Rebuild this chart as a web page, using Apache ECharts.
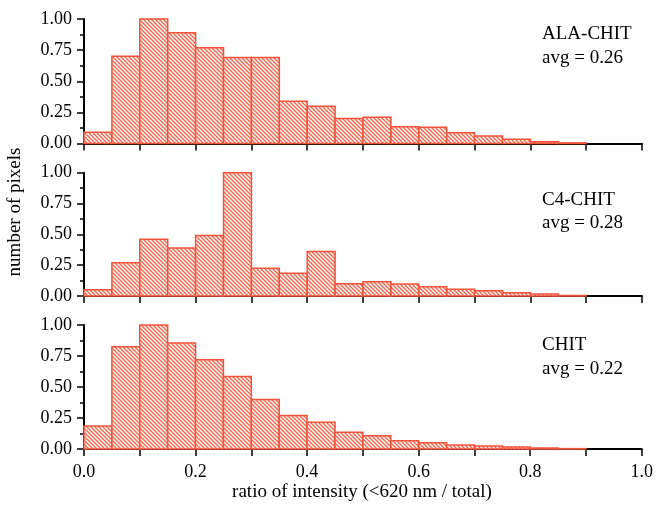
<!DOCTYPE html>
<html>
<head>
<meta charset="utf-8">
<script src="https://cdn.jsdelivr.net/npm/echarts@6/dist/echarts.min.js"></script>
<style>
html,body{margin:0;padding:0;background:#fff;}
#c{width:656px;height:513px;}
</style>
</head>
<body>
<div id="c"></div>
<script>
// ---- data ----
const binStarts = [0.00,0.05,0.10,0.15,0.20,0.25,0.30,0.35,0.40,0.45,0.50,0.55,0.60,0.65,0.70,0.75,0.80,0.85];
const binWidth = 0.05;
const alaChit = [0.09,0.70,1.00,0.89,0.77,0.69,0.69,0.34,0.30,0.20,0.21,0.135,0.13,0.087,0.06,0.035,0.015,0.005];
const c4Chit  = [0.05,0.27,0.46,0.39,0.49,1.00,0.225,0.185,0.36,0.10,0.115,0.098,0.076,0.054,0.043,0.027,0.016,0.004];
const chit    = [0.185,0.825,1.00,0.855,0.72,0.585,0.40,0.27,0.215,0.135,0.107,0.067,0.051,0.032,0.024,0.016,0.008,0.003];
const panelNames = ['ALA-CHIT','C4-CHIT','CHIT'];
const panelAvg = ['avg = 0.26','avg = 0.28','avg = 0.22'];
const xTitle = 'ratio of intensity (<620 nm / total)';
const yTitle = 'number of pixels';

// ---- hatch pattern ----
const tile = document.createElement('canvas');
tile.width = 4; tile.height = 4;
const tc = tile.getContext('2d');
tc.fillStyle = '#ffffff';
tc.fillRect(0,0,4,4);
tc.strokeStyle = '#f4664c';
tc.lineWidth = 1.4;
tc.beginPath();
tc.moveTo(-1,-1); tc.lineTo(5,5);
tc.moveTo(-1,3); tc.lineTo(1,5);
tc.moveTo(3,-1); tc.lineTo(5,1);
tc.stroke();
const hatch = {image: tile, repeat: 'repeat'};

const FONT = 'Liberation Serif';
const grids = [
  {left:84, right:14, top:19, height:124.5},
  {left:84, right:14, top:172.7, height:123.3},
  {left:84, right:14, top:325, height:124}
];
const seriesData = [alaChit, c4Chit, chit];

const xAxes = grids.map((g,i)=>({
  type:'value', gridIndex:i, min:0, max:1, interval:0.2,
  axisLine:{show:true, onZero:false, lineStyle:{color:'#000', width:2}},
  axisTick:{show:true, inside:false, length:7, lineStyle:{color:'#000', width:1.5}},
  minorTick:{show:true, splitNumber:2, length:7, lineStyle:{color:'#000', width:1.5}},
  splitLine:{show:false},
  axisLabel:{show:i===2, margin:14, color:'#000', fontFamily:FONT, fontSize:18,
    formatter:(v)=>v.toFixed(1)}
}));
const yAxes = grids.map((g,i)=>({
  type:'value', gridIndex:i, min:0, max:1, interval:0.25,
  axisLine:{show:true, lineStyle:{color:'#000', width:2}},
  axisTick:{show:true, inside:false, length:7, lineStyle:{color:'#000', width:1.5}},
  minorTick:{show:true, splitNumber:2, length:4, lineStyle:{color:'#000', width:1.5}},
  splitLine:{show:false},
  axisLabel:{margin:12, color:'#000', fontFamily:FONT, fontSize:18,
    formatter:(v)=>v.toFixed(2)}
}));

function renderItem(params, api){
  const x0 = api.value(0), x1 = api.value(1), y = api.value(2);
  const p0 = api.coord([x0, y]);
  const p1 = api.coord([x1, 0]);
  return {
    type:'rect',
    shape:{x:p0[0], y:p0[1], width:p1[0]-p0[0], height:p1[1]-p0[1]},
    style:{fill:hatch, stroke:'#f0553c', lineWidth:1.5}
  };
}

const series = seriesData.map((arr,i)=>({
  type:'custom', xAxisIndex:i, yAxisIndex:i,
  renderItem: renderItem,
  encode:{x:[0,1], y:2},
  data: arr.map((v,k)=>[binStarts[k], binStarts[k]+binWidth, v])
}));

const labelPos = [[542,41,65],[542,206.5,230],[542,351.5,376]];
const graphics = [];
labelPos.forEach((p,i)=>{
  graphics.push({type:'text', left:p[0], top:p[1]-16, style:{text:panelNames[i], fill:'#000', font:'19px "'+FONT+'"'}});
  graphics.push({type:'text', left:p[0], top:p[2]-16, style:{text:panelAvg[i], fill:'#000', font:'19px "'+FONT+'"'}});
});

const chart = echarts.init(document.getElementById('c'), null, {renderer:'canvas'});
chart.setOption({
  backgroundColor:'#fff',
  animation:false,
  grid: grids,
  xAxis: xAxes,
  yAxis: yAxes,
  series: series,
  graphic: [
    ...graphics,
    {type:'text', x:362, y:492, style:{text:xTitle, fill:'#000', font:'19px "'+FONT+'"', align:'center', verticalAlign:'middle'}},
    {type:'text', x:15, y:212, rotation:Math.PI/2, style:{text:yTitle, fill:'#000', font:'19px "'+FONT+'"', align:'center', verticalAlign:'middle'}}
  ]
});
</script>
</body>
</html>
